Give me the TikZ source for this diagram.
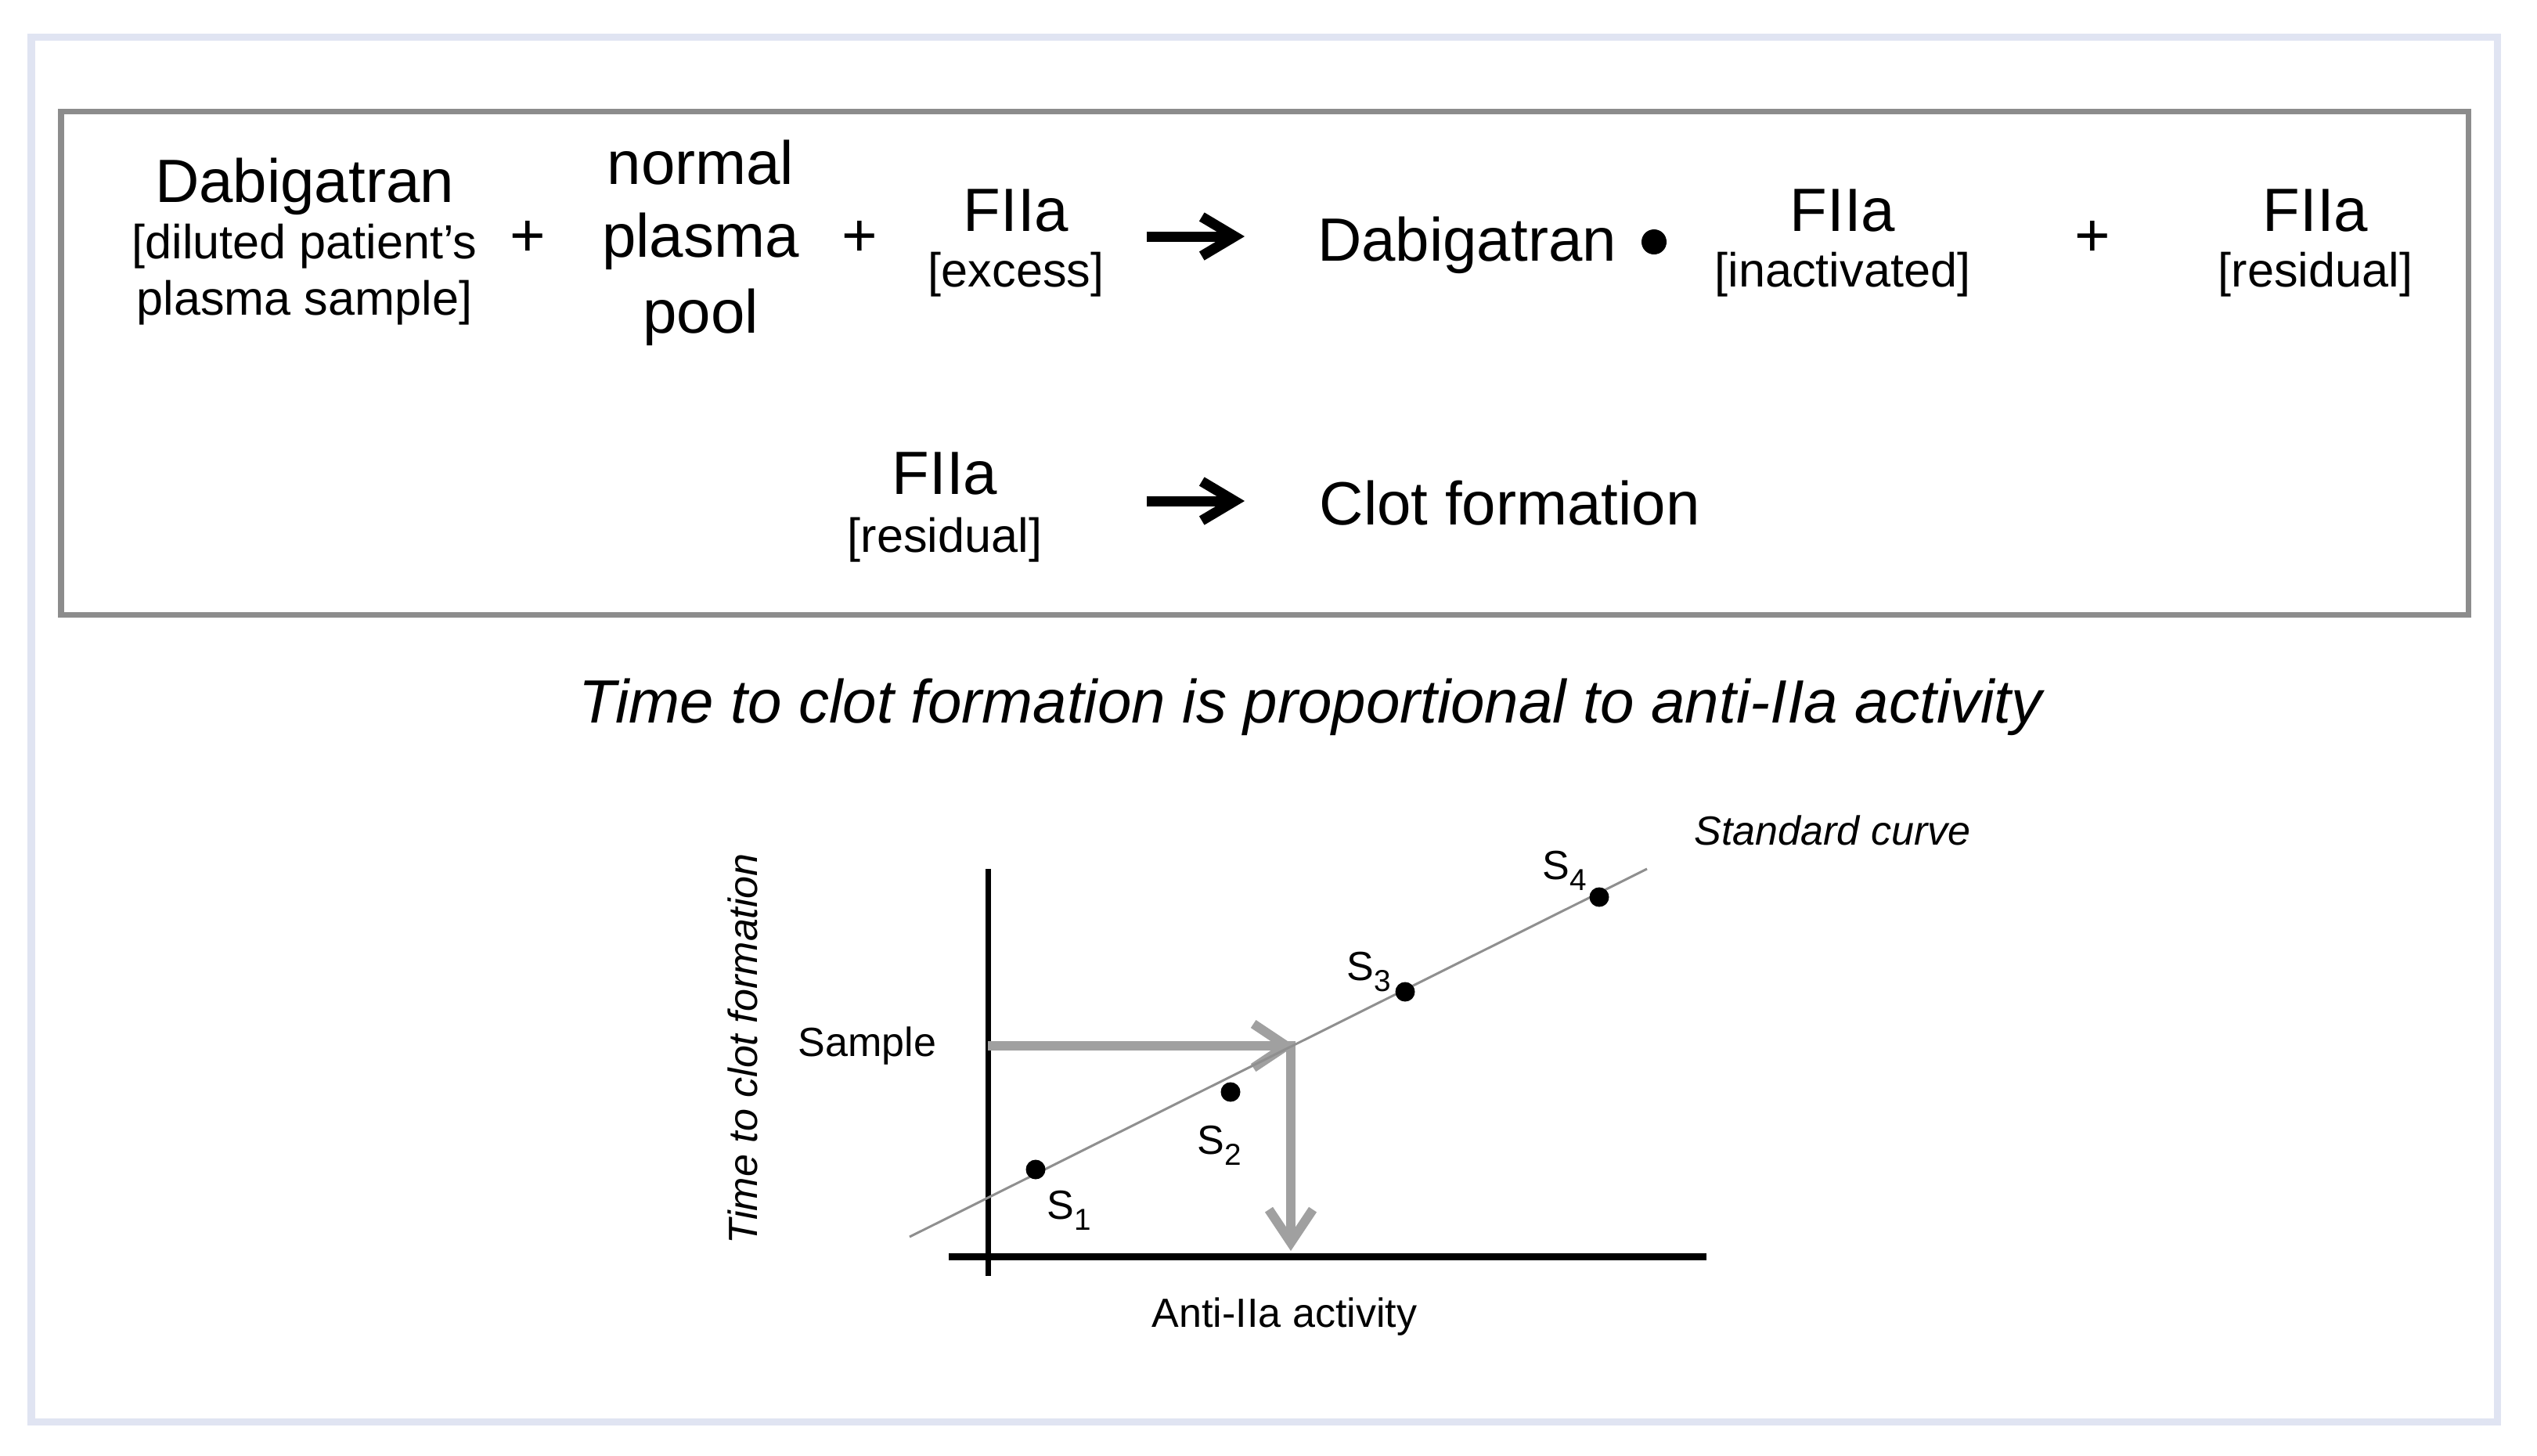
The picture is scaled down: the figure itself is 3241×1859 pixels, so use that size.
\documentclass[tikz,border=0pt]{standalone}
\usepackage{fontspec}
\setmainfont{Liberation Sans}
\usetikzlibrary{arrows.meta}
\definecolor{frameblue}{HTML}{E0E4F2}
\definecolor{boxgray}{HTML}{8C8C8C}
\definecolor{arrgray}{HTML}{A0A0A0}
\definecolor{curvegray}{HTML}{8F8F8F}
\newcommand\fbig{\fontsize{22.2pt}{26pt}\selectfont}
\newcommand\fmed{\fontsize{17.4pt}{20pt}\selectfont}
\newcommand\fsml{\fontsize{14.8pt}{17pt}\selectfont}
\newcommand\fsub{\fontsize{11pt}{13pt}\selectfont}
\newcommand\Ssub[1]{S{\fsub\raisebox{-0.14cm}{#1}}}
\begin{document}
\begin{tikzpicture}[x=0.01cm,y=-0.01cm,
  big/.style={font=\fbig, inner sep=0pt, anchor=base},
  med/.style={font=\fmed, inner sep=0pt, anchor=base},
  sml/.style={font=\fsml, inner sep=0pt, anchor=base},
  rxn/.style={line width=0.13cm, -{Straight Barb[sharp,length=0.42cm,width=0.5cm]}},
  readarrow/.style={draw=arrgray, line width=0.12cm, -{Straight Barb[sharp,length=0.42cm,width=0.56cm]}},
  dot/.style={circle, fill=black, inner sep=0pt, minimum size=0.25cm},
  axis/.style={draw=black, line width=0.08cm},
]
\useasboundingbox (0,0) rectangle (3241,1859);
% frames
\draw[frameblue, line width=0.09cm] (40,47) rectangle (3190,1816);
\draw[boxgray, line width=0.07cm] (78,142) rectangle (3153,785);

% ---- reaction row 1
\node[big] (dab1) at (389,258) {Dabigatran};
\node[med] (dab1b) at (389,330) {[diluted patient's};
\node[med] (dab1c) at (389,402) {plasma sample]};
\node[big, anchor=center] (plus1) at (674,305) {+};
\node[big] (npp1) at (895,235) {normal};
\node[big] (npp2) at (895,328) {plasma};
\node[big] (npp3) at (895,425) {pool};
\node[big, anchor=center] (plus2) at (1098,305) {+};
\node[big] (f1) at (1298,295) {FIIa};
\node[med] (f1b) at (1298,366) {[excess]};
\coordinate (a1s) at (1465,302);
\coordinate (a1e) at (1590,302);
\draw[rxn] (a1s) -- (a1e);
\node[big] (dab2) at (1874,333) {Dabigatran};
\node[dot, minimum size=0.32cm] (bul) at (2113,309) {};
\node[big] (f2) at (2354,295) {FIIa};
\node[med] (f2b) at (2354,366) {[inactivated]};
\node[big, anchor=center] (plus3) at (2673,305) {+};
\node[big] (f3) at (2958,295) {FIIa};
\node[med] (f3b) at (2958,366) {[residual]};

% ---- reaction row 2
\node[big] (f4) at (1207,631) {FIIa};
\node[med] (f4b) at (1207,705) {[residual]};
\coordinate (a2s) at (1465,640);
\coordinate (a2e) at (1590,640);
\draw[rxn] (a2s) -- (a2e);
\node[big, anchor=base west] (clot) at (1685,670) {Clot formation};

% ---- title
\node[big, font=\fbig\itshape] (title) at (1674,923) {Time to clot formation is proportional to anti-IIa activity};

% ---- graph
\coordinate (ytop) at (1262,1110);
\coordinate (ybot) at (1262,1630);
\coordinate (xl) at (1212,1605);
\coordinate (xr) at (2180,1605);
\draw[axis, line width=0.07cm] (ytop) -- (ybot);
\draw[axis, line width=0.09cm] (xl) -- (xr);

\coordinate (c0) at (1162,1580);
\coordinate (c1) at (2104,1110);

\coordinate (samp) at (1262,1336);
\coordinate (hit) at (1654,1336);
\coordinate (vtop) at (1649,1330);
\coordinate (vbot) at (1649,1598);
\draw[readarrow] (vtop) -- (vbot);
\draw[readarrow] (samp) -- (hit);

\draw[curvegray, line width=0.03cm] (c0) -- (c1);

\node[dot] (s1) at (1323,1494) {};
\node[dot] (s2) at (1572,1395) {};
\node[dot] (s3) at (1795,1267) {};
\node[dot] (s4) at (2043,1146) {};

\node[sml, anchor=base west] (l1) at (1337,1557) {\Ssub{1}};
\node[sml, anchor=base west] (l2) at (1529,1474) {\Ssub{2}};
\node[sml, anchor=base west] (l3) at (1720,1252) {\Ssub{3}};
\node[sml, anchor=base west] (l4) at (1970,1123) {\Ssub{4}};

\node[sml] (samplab) at (1108,1349) {Sample};
\node[sml] (xlab) at (1641,1695) {Anti-IIa activity};
\node[sml, font=\fsml\itshape] (stdlab) at (2341,1079) {Standard curve};
\node[sml, font=\fsml\itshape, rotate=90] (ylab) at (967,1340) {Time to clot formation};
\end{tikzpicture}
\end{document}
